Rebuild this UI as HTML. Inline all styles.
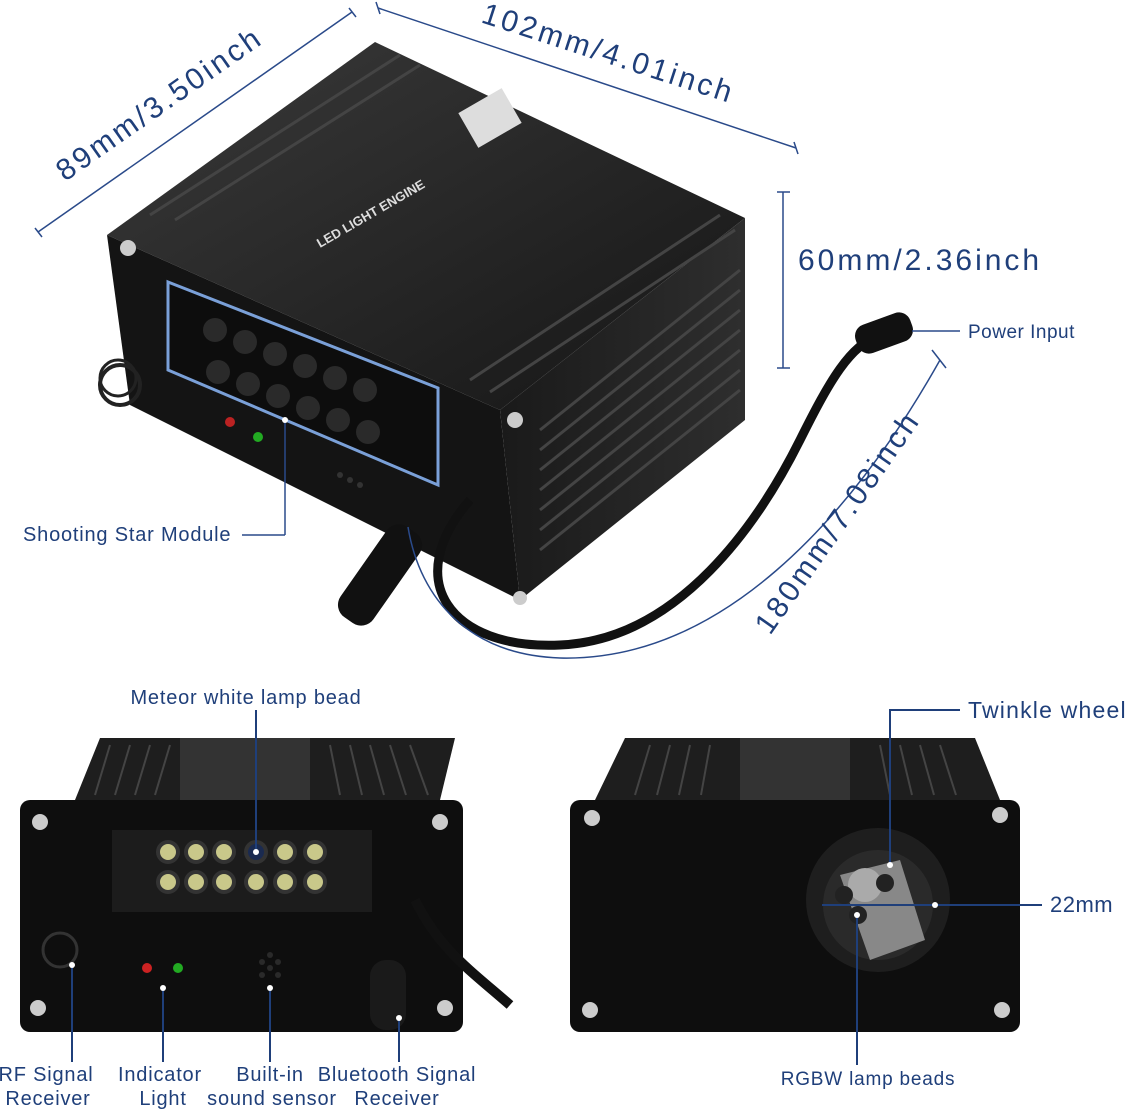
<!DOCTYPE html>
<html><head><style>
body{margin:0;background:#fff;}
svg{display:block;font-family:"Liberation Sans",sans-serif;}
.l{fill:#1f3f7a;}
.d{letter-spacing:3px;}
</style></head><body>
<svg width="1131" height="1112" viewBox="0 0 1131 1112">
<defs>
<linearGradient id="tp" x1="0" y1="0" x2="1" y2="1"><stop offset="0" stop-color="#3a3a3a"/><stop offset="1" stop-color="#151515"/></linearGradient>
<linearGradient id="rs" x1="0" y1="0" x2="1" y2="0"><stop offset="0" stop-color="#1a1a1a"/><stop offset="1" stop-color="#2e2e2e"/></linearGradient>
</defs>
<!-- top box -->
<polygon points="107,235 375,42 745,218 500,410" fill="url(#tp)"/>
<polygon points="107,235 500,410 520,600 130,405" fill="#141414"/>
<polygon points="500,410 745,218 745,420 520,600" fill="url(#rs)"/>
<g stroke="#444" stroke-width="3">
<line x1="540" y1="430" x2="740" y2="270"/><line x1="540" y1="450" x2="740" y2="290"/><line x1="540" y1="470" x2="740" y2="310"/><line x1="540" y1="490" x2="740" y2="330"/><line x1="540" y1="510" x2="740" y2="350"/><line x1="540" y1="530" x2="740" y2="370"/><line x1="540" y1="550" x2="740" y2="390"/>
<line x1="150" y1="215" x2="400" y2="55"/><line x1="175" y1="220" x2="420" y2="65"/><line x1="470" y1="380" x2="720" y2="215"/><line x1="490" y1="392" x2="735" y2="230"/>
</g>
<polygon points="168,282 438,388 438,485 168,370" fill="#0d0d0d" stroke="#7aa0d8" stroke-width="3"/>
<g fill="#2a2a2a"><circle cx="215" cy="330" r="12"/><circle cx="245" cy="342" r="12"/><circle cx="275" cy="354" r="12"/><circle cx="305" cy="366" r="12"/><circle cx="335" cy="378" r="12"/><circle cx="365" cy="390" r="12"/>
<circle cx="218" cy="372" r="12"/><circle cx="248" cy="384" r="12"/><circle cx="278" cy="396" r="12"/><circle cx="308" cy="408" r="12"/><circle cx="338" cy="420" r="12"/><circle cx="368" cy="432" r="12"/></g>
<circle cx="230" cy="422" r="5" fill="#b22"/><circle cx="258" cy="437" r="5" fill="#2a2"/>
<circle cx="350" cy="480" r="3" fill="#333"/><circle cx="340" cy="475" r="3" fill="#333"/><circle cx="360" cy="485" r="3" fill="#333"/>
<circle cx="128" cy="248" r="8" fill="#ccc"/><circle cx="515" cy="420" r="8" fill="#ccc"/><circle cx="520" cy="598" r="7" fill="#ccc"/>
<text x="320" y="248" fill="#ddd" font-size="13" font-weight="bold" transform="rotate(-30 320 248)">LED LIGHT ENGINE</text>
<rect x="465" y="98" width="50" height="40" fill="#ddd" transform="rotate(-30 490 118)"/>
<circle cx="120" cy="385" r="20" fill="none" stroke="#222" stroke-width="4"/>
<circle cx="118" cy="378" r="18" fill="none" stroke="#222" stroke-width="3"/>
<path d="M470,500 C400,580 450,650 560,645 C680,640 760,520 800,440 C830,380 850,345 880,335" fill="none" stroke="#111" stroke-width="9"/>
<rect x="855" y="318" width="58" height="30" rx="12" fill="#111" transform="rotate(-20 884 333)"/>
<rect x="360" y="520" width="40" height="110" rx="15" fill="#111" transform="rotate(35 380 575)"/>
<!-- dimension lines -->
<g stroke="#2a4a8a" stroke-width="1.5" fill="none">
<line x1="38" y1="232" x2="352" y2="12"/><line x1="35" y1="228" x2="42" y2="237"/><line x1="349" y1="8" x2="356" y2="17"/>
<line x1="378" y1="8" x2="796" y2="148"/><line x1="376" y1="2" x2="380" y2="14"/><line x1="794" y1="142" x2="798" y2="154"/>
<line x1="783" y1="192" x2="783" y2="368"/><line x1="777" y1="192" x2="790" y2="192"/><line x1="777" y1="368" x2="790" y2="368"/>
<path d="M408,527 C420,600 470,655 560,658 C720,662 850,520 940,360"/><line x1="932" y1="350" x2="946" y2="368"/>
<line x1="912" y1="331" x2="960" y2="331"/>
<line x1="285" y1="420" x2="285" y2="535"/><line x1="242" y1="535" x2="285" y2="535"/>
</g>
<circle cx="285" cy="420" r="3" fill="#fff"/>
<text class="l d" x="0" y="0" font-size="30" transform="translate(65,182) rotate(-35)">89mm/3.50inch</text>
<text class="l d" x="0" y="0" font-size="30" transform="translate(480,22) rotate(18)">102mm/4.01inch</text>
<text class="l d" x="798" y="270" font-size="30">60mm/2.36inch</text>
<text class="l d" x="0" y="0" font-size="30" transform="translate(770,636) rotate(-55)">180mm/7.08inch</text>
<text class="l" x="968" y="338" font-size="19" letter-spacing="0.5">Power Input</text>
<text class="l" x="23" y="541" font-size="20" letter-spacing="0.8">Shooting Star Module</text>
<!-- bottom left -->
<polygon points="75,800 100,738 455,738 440,800" fill="#1e1e1e"/>
<rect x="180" y="738" width="130" height="62" fill="#333"/>
<g stroke="#444" stroke-width="2"><line x1="110" y1="745" x2="95" y2="795"/><line x1="130" y1="745" x2="115" y2="795"/><line x1="150" y1="745" x2="135" y2="795"/><line x1="170" y1="745" x2="155" y2="795"/><line x1="330" y1="745" x2="340" y2="795"/><line x1="350" y1="745" x2="362" y2="795"/><line x1="370" y1="745" x2="384" y2="795"/><line x1="390" y1="745" x2="406" y2="795"/><line x1="410" y1="745" x2="428" y2="795"/></g>
<rect x="20" y="800" width="443" height="232" rx="10" fill="#0e0e0e"/>
<rect x="112" y="830" width="260" height="82" fill="#1c1c1c"/>
<g fill="#c9c88a" stroke="#333" stroke-width="4">
<circle cx="168" cy="852" r="10"/><circle cx="196" cy="852" r="10"/><circle cx="224" cy="852" r="10"/><circle cx="256" cy="852" r="10" fill="#1a2a50"/><circle cx="285" cy="852" r="10"/><circle cx="315" cy="852" r="10"/>
<circle cx="168" cy="882" r="10"/><circle cx="196" cy="882" r="10"/><circle cx="224" cy="882" r="10"/><circle cx="256" cy="882" r="10"/><circle cx="285" cy="882" r="10"/><circle cx="315" cy="882" r="10"/></g>
<circle cx="40" cy="822" r="8" fill="#ccc"/><circle cx="440" cy="822" r="8" fill="#ccc"/><circle cx="38" cy="1008" r="8" fill="#ccc"/><circle cx="445" cy="1008" r="8" fill="#ccc"/>
<circle cx="147" cy="968" r="5" fill="#c22"/><circle cx="178" cy="968" r="5" fill="#2a2"/>
<g fill="#2a2a2a"><circle cx="262" cy="962" r="3"/><circle cx="278" cy="962" r="3"/><circle cx="270" cy="955" r="3"/><circle cx="262" cy="975" r="3"/><circle cx="278" cy="975" r="3"/><circle cx="270" cy="968" r="3"/></g>
<circle cx="60" cy="950" r="17" fill="none" stroke="#333" stroke-width="3"/>
<rect x="370" y="960" width="36" height="70" rx="16" fill="#1a1a1a"/>
<path d="M415,900 C440,950 470,970 510,1005" stroke="#111" stroke-width="10" fill="none"/>
<g stroke="#1f3f7a" stroke-width="2"><line x1="256" y1="710" x2="256" y2="852"/><line x1="72" y1="965" x2="72" y2="1062"/><line x1="163" y1="988" x2="163" y2="1062"/><line x1="270" y1="988" x2="270" y2="1062"/><line x1="399" y1="1018" x2="399" y2="1062"/></g>
<g fill="#fff"><circle cx="72" cy="965" r="3"/><circle cx="163" cy="988" r="3"/><circle cx="270" cy="988" r="3"/><circle cx="399" cy="1018" r="3"/><circle cx="256" cy="852" r="3"/></g>
<g class="l" font-size="20" text-anchor="middle" letter-spacing="0.8">
<text x="246" y="704">Meteor white lamp bead</text>
<text x="46" y="1081">RF Signal</text><text x="48" y="1105">Receiver</text>
<text x="160" y="1081">Indicator</text><text x="163" y="1105">Light</text>
<text x="270" y="1081">Built-in</text><text x="272" y="1105">sound sensor</text>
<text x="397" y="1081">Bluetooth Signal</text><text x="397" y="1105">Receiver</text>
</g>
<!-- bottom right -->
<polygon points="595,800 625,738 975,738 1000,800" fill="#1e1e1e"/>
<rect x="740" y="738" width="110" height="62" fill="#333"/>
<g stroke="#444" stroke-width="2"><line x1="650" y1="745" x2="635" y2="795"/><line x1="670" y1="745" x2="657" y2="795"/><line x1="690" y1="745" x2="679" y2="795"/><line x1="710" y1="745" x2="701" y2="795"/><line x1="880" y1="745" x2="890" y2="795"/><line x1="900" y1="745" x2="912" y2="795"/><line x1="920" y1="745" x2="934" y2="795"/><line x1="940" y1="745" x2="956" y2="795"/></g>
<rect x="570" y="800" width="450" height="232" rx="10" fill="#0e0e0e"/>
<circle cx="592" cy="818" r="8" fill="#ccc"/><circle cx="1000" cy="815" r="8" fill="#ccc"/><circle cx="590" cy="1010" r="8" fill="#ccc"/><circle cx="1002" cy="1010" r="8" fill="#ccc"/>
<circle cx="878" cy="900" r="72" fill="#1e1e1e"/>
<circle cx="878" cy="905" r="55" fill="#2a2a2a"/>
<path d="M840,875 L900,860 L925,940 L870,960 Z" fill="#888"/>
<circle cx="865" cy="885" r="17" fill="#aaa"/>
<circle cx="844" cy="895" r="9" fill="#222"/><circle cx="885" cy="883" r="9" fill="#222"/><circle cx="858" cy="915" r="9" fill="#222"/>
<g stroke="#1f3f7a" stroke-width="2" fill="none"><polyline points="890,865 890,710 960,710"/><line x1="822" y1="905" x2="1042" y2="905"/><line x1="857" y1="915" x2="857" y2="1065"/></g>
<g fill="#fff"><circle cx="890" cy="865" r="3"/><circle cx="857" cy="915" r="3"/><circle cx="935" cy="905" r="3"/></g>
<text class="l" x="968" y="718" font-size="23" letter-spacing="1.2">Twinkle wheel</text>
<text class="l" x="1050" y="912" font-size="22" letter-spacing="0.5">22mm</text>
<text class="l" x="868" y="1085" font-size="19" text-anchor="middle" letter-spacing="0.8">RGBW lamp beads</text>
</svg>
</body></html>
